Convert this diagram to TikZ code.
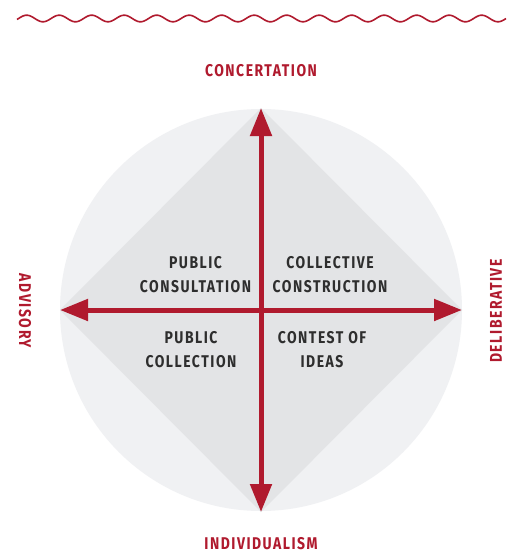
\documentclass[tikz,border=0pt]{standalone}
\usepackage{fontspec}
\setmainfont{Fira Sans}[FakeStretch=0.82]
\usetikzlibrary{arrows.meta}
\definecolor{dred}{HTML}{B01A2E}
\definecolor{dtext}{HTML}{2E2E2E}
\definecolor{circfill}{HTML}{F0F1F3}
\definecolor{diafill}{HTML}{E3E4E6}
\tikzset{
  axislabel/.style={text=dred, font=\fontsize{17}{19}\selectfont\bfseries\addfontfeatures{LetterSpace=9}, inner sep=0pt},
  quadlabel/.style={text=dtext, font=\fontsize{17}{24}\selectfont\bfseries\addfontfeatures{LetterSpace=9}, align=center, inner sep=0pt},
  axisarrow/.style={draw=dred, line width=5pt, {Triangle[length=28pt,width=21pt]}-{Triangle[length=28pt,width=21pt]}}
}
\begin{document}
\begin{tikzpicture}[x=1pt,y=-1pt]
\fill[white] (0,0) rectangle (506,554);
\useasboundingbox (0,0) rectangle (506,554);
% wave
\draw[dred, line width=1.6pt] plot[domain=17:506, samples=400, smooth] (\x, {18.5 - 3.3*cos((\x-26.7)/32.5*360)});
% circle & diamond
\coordinate (O) at (261,310);
\coordinate (T) at (261,108);
\coordinate (B) at (261,512);
\coordinate (L) at (60,310);
\coordinate (R) at (462,310);
\fill[circfill] (O) circle (201);
\fill[diafill] (T) -- (R) -- (B) -- (L) -- cycle;
% arrows
\draw[axisarrow] (L) -- (R);
\draw[axisarrow] (B) -- (T);
% axis labels
\node[axislabel] (conc) at (261,71) {CONCERTATION};
\node[axislabel] (indiv) at (261,544) {INDIVIDUALISM};
\node[axislabel, rotate=-90] (adv) at (25,311) {ADVISORY};
\node[axislabel, rotate=90] (delib) at (496,311) {DELIBERATIVE};
% quadrant labels
\node[quadlabel] (pc) at (195.5,275) {PUBLIC\\CONSULTATION};
\node[quadlabel] (cc) at (330,275) {COLLECTIVE\\CONSTRUCTION};
\node[quadlabel] (pcol) at (191,350) {PUBLIC\\COLLECTION};
\node[quadlabel] (ci) at (322,350) {CONTEST OF\\IDEAS};
\end{tikzpicture}
\end{document}
